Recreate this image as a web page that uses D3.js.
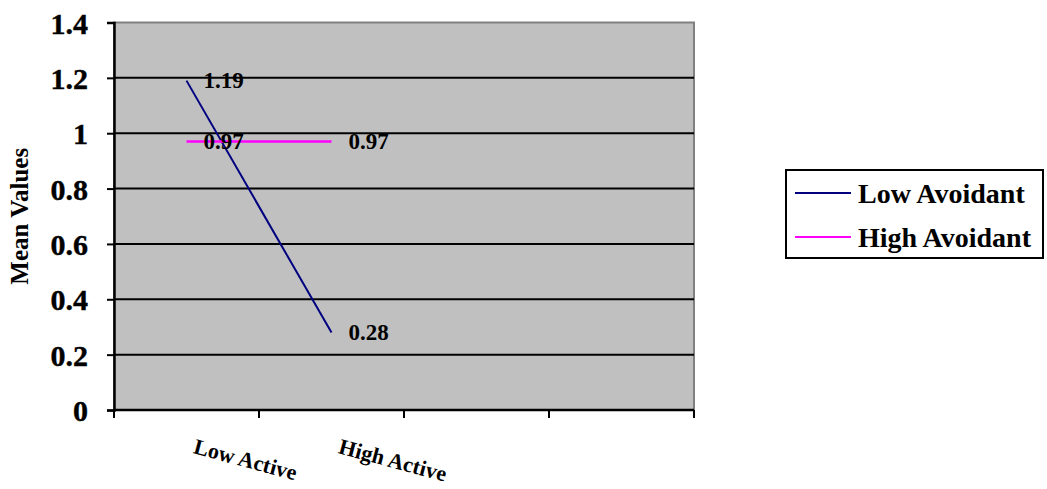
<!DOCTYPE html>
<html><head><meta charset="utf-8">
<script src="https://cdn.jsdelivr.net/npm/d3@7/dist/d3.min.js"></script>
<style>body{margin:0;background:#fff}svg{display:block}text{font-family:"Liberation Serif","Times New Roman",serif;font-weight:bold}</style>
</head><body>
<script>
const categories = ["Low Active", "High Active", "cat3", "cat4"];
const categoryLabels = ["Low Active", "High Active", "", ""];
const seriesNames = ["Low Avoidant", "High Avoidant"];
const lowAvoidant = [1.19, 0.28];
const highAvoidant = [0.97, 0.97];
const yTicks = [0, 0.2, 0.4, 0.6, 0.8, 1, 1.2, 1.4];
const colors = ["#000080", "#FF00FF"];

const W = 1047, H = 489;
const svg = d3.select("body").append("svg").attr("width", W).attr("height", H);
const L = 114, R = 694, T = 22.5, B = 410;
const x = d3.scaleBand().domain(categories).range([L, R]);
const y = d3.scaleLinear().domain([0, 1.4]).range([B, T]);

svg.append("rect").attr("x", L).attr("y", T).attr("width", R - L).attr("height", B - T)
  .attr("fill", "#C0C0C0").attr("stroke", "#808080").attr("stroke-width", 2);

// gridlines
svg.append("g").selectAll("line").data(yTicks.filter(d => d > 0 && d < 1.4)).join("line")
  .attr("x1", L).attr("x2", R).attr("y1", d => y(d)).attr("y2", d => y(d))
  .attr("stroke", "#000").attr("stroke-width", 2);

// y axis
const yAxis = svg.append("g").attr("transform", `translate(${L},0)`)
  .call(d3.axisLeft(y).tickValues(yTicks).tickSize(7).tickPadding(19).tickFormat(d3.format("")));
yAxis.select(".domain").attr("stroke", "#000").attr("stroke-width", 2.5);
yAxis.selectAll(".tick line").attr("stroke", "#000").attr("stroke-width", 2);
yAxis.selectAll("text").attr("font-size", 30).attr("fill", "#000").attr("dy", "0.35em")
  .attr("stroke", "#000").attr("stroke-width", 0.4)
  .attr("font-family", '"Liberation Serif",serif').attr("font-weight", "bold");

// x axis line and tick marks at band boundaries
const bounds = categories.map(c => x(c)).concat([x(categories[categories.length - 1]) + x.bandwidth()]);
svg.append("line").attr("x1", L).attr("x2", R).attr("y1", B).attr("y2", B)
  .attr("stroke", "#000").attr("stroke-width", 2.5);
svg.append("g").selectAll("line").data(bounds).join("line")
  .attr("x1", d => d).attr("x2", d => d).attr("y1", B).attr("y2", B + 8)
  .attr("stroke", "#000").attr("stroke-width", 2);

// x labels rotated
svg.append("g").selectAll("text").data(categories).join("text")
  .text((d, i) => categoryLabels[i])
  .attr("transform", d => `translate(${x(d) + x.bandwidth() / 2 + 6},${B + 43}) rotate(15)`)
  .attr("font-size", 22).attr("fill", "#000");

// y title
svg.append("text").text("Mean Values")
  .attr("transform", `translate(28,${(T + B) / 2}) rotate(-90)`)
  .attr("text-anchor", "middle").attr("font-size", 25).attr("fill", "#000");

// lines
const series = [lowAvoidant, highAvoidant];
const line = d3.line().x((d, i) => x(categories[i]) + x.bandwidth() / 2).y(d => y(d));
series.forEach((s, k) => {
  svg.append("path").datum(s).attr("d", line).attr("fill", "none")
    .attr("stroke", colors[k]).attr("stroke-width", k === 0 ? 2 : 2.5);
});
// data labels
series.forEach((s, k) => {
  svg.append("g").selectAll("text").data(s).join("text")
    .text(d => d.toFixed(2))
    .attr("x", (d, i) => x(categories[i]) + x.bandwidth() / 2 + 17)
    .attr("y", d => y(d) + 7.5)
    .attr("font-size", 23).attr("fill", "#000");
});

// legend
const lg = svg.append("g");
lg.append("rect").attr("x", 786).attr("y", 170).attr("width", 257).attr("height", 88)
  .attr("fill", "#fff").attr("stroke", "#000").attr("stroke-width", 2);
seriesNames.forEach((n, k) => {
  const yy = 193 + k * 44;
  lg.append("line").attr("x1", 795).attr("x2", 851).attr("y1", yy).attr("y2", yy)
    .attr("stroke", colors[k]).attr("stroke-width", 2);
  lg.append("text").text(n).attr("x", 858).attr("y", yy + 10).attr("font-size", 28).attr("fill", "#000");
});
</script>
</body></html>
